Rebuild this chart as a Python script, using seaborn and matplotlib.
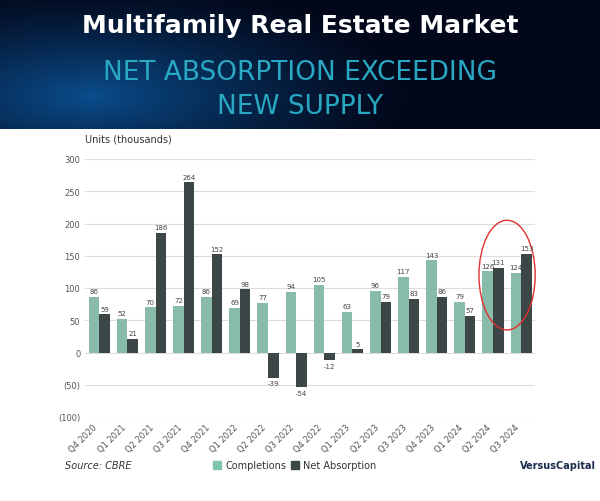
import numpy as np
import pandas as pd
import seaborn as sns
import matplotlib
matplotlib.use("Agg")
import matplotlib.pyplot as plt
from matplotlib.patches import Ellipse, Rectangle

quarters = ["Q4 2020","Q1 2021","Q2 2021","Q3 2021","Q4 2021","Q1 2022","Q2 2022","Q3 2022",
            "Q4 2022","Q1 2023","Q2 2023","Q3 2023","Q4 2023","Q1 2024","Q2 2024","Q3 2024"]
completions = [86,52,70,72,86,69,77,94,105,63,96,117,143,79,126,124]
net_absorption = [59,21,186,264,152,98,-39,-54,-12,5,79,83,86,57,131,153]
yticks = [300,250,200,150,100,50,0,-50,-100]
ytick_labels = ["300","250","200","150","100","50","0","(50)","(100)"]

df = pd.DataFrame({"Quarter": quarters*2,
                   "Value": completions+net_absorption,
                   "Series": ["Completions"]*16 + ["Net Absorption"]*16})

fig = plt.figure(figsize=(6, 5.02), dpi=100)
fig.patch.set_facecolor("white")

hax = fig.add_axes([0, 1-130/502, 1, 130/502])
xx, yy = np.meshgrid(np.linspace(0, 1, 300), np.linspace(0, 1, 80))
d = np.sqrt(((xx-0.15)/0.55)**2 + ((yy-0.25)/0.9)**2)
t = np.clip(1-d, 0, 1)**1.3
c0 = np.array([0.01, 0.03, 0.10]); c1 = np.array([0.04, 0.30, 0.55])
img = c0[None, None, :] + (c1-c0)[None, None, :]*t[..., None]
hax.imshow(img, aspect="auto", extent=[0, 1, 0, 1], origin="lower")
hax.set_axis_off()
hax.text(0.5, 0.80, "Multifamily Real Estate Market", color="white", fontsize=18, ha="center", va="center", fontweight="bold")
hax.text(0.5, 0.44, "NET ABSORPTION EXCEEDING", color="#29a8c4", fontsize=19, ha="center", va="center")
hax.text(0.5, 0.18, "NEW SUPPLY", color="#29a8c4", fontsize=19, ha="center", va="center")

ax = fig.add_axes([0.142, 1-418/502, 0.75, (418-160)/502])
sns.barplot(data=df, x="Quarter", y="Value", hue="Series", ax=ax,
            palette={"Completions": "#7fc4ad", "Net Absorption": "#3a4848"},
            width=0.75, gap=0.0, legend=False)
ax.set_ylim(-100, 300)
ax.set_yticks(yticks)
ax.set_yticklabels(ytick_labels, fontsize=6, color="#555")
ax.set_xticks(range(16))
ax.set_xticklabels(quarters, rotation=45, ha="right", fontsize=6, color="#555")
ax.set_xlabel(""); ax.set_ylabel("")
ax.grid(axis="y", color="#dddddd", lw=0.8)
ax.set_axisbelow(True)
for s in ax.spines.values():
    s.set_visible(False)
ax.tick_params(length=0)
for cont in ax.containers:
    for bar in cont:
        h = bar.get_height()
        y = h + 4 if h >= 0 else h - 4
        ax.text(bar.get_x()+bar.get_width()/2, y, f"{int(round(h))}", ha="center",
                va="bottom" if h >= 0 else "top", fontsize=5, color="#444")
ax.add_patch(Ellipse((14.5, 120), 2.0, 170, fill=False, edgecolor="#e03030", lw=1, clip_on=False))

fig.text(85/600, 1-140/502, "Units (thousands)", fontsize=7, color="#333", va="center")
fig.text(65/600, 1-466/502, "Source: CBRE", fontsize=7, style="italic", color="#333", va="center")
fig.patches.append(Rectangle((213/600, 1-470/502), 8/600, 8/502, transform=fig.transFigure, color="#7fc4ad"))
fig.text(225/600, 1-466/502, "Completions", fontsize=7, color="#333", va="center")
fig.patches.append(Rectangle((291/600, 1-470/502), 8/600, 8/502, transform=fig.transFigure, color="#3a4848"))
fig.text(303/600, 1-466/502, "Net Absorption", fontsize=7, color="#333", va="center")
fig.text(520/600, 1-466/502, "VersusCapital", fontsize=7, fontweight="bold", color="#1a2a4a", ha="left", va="center")

fig.savefig("out.png", dpi=100)
